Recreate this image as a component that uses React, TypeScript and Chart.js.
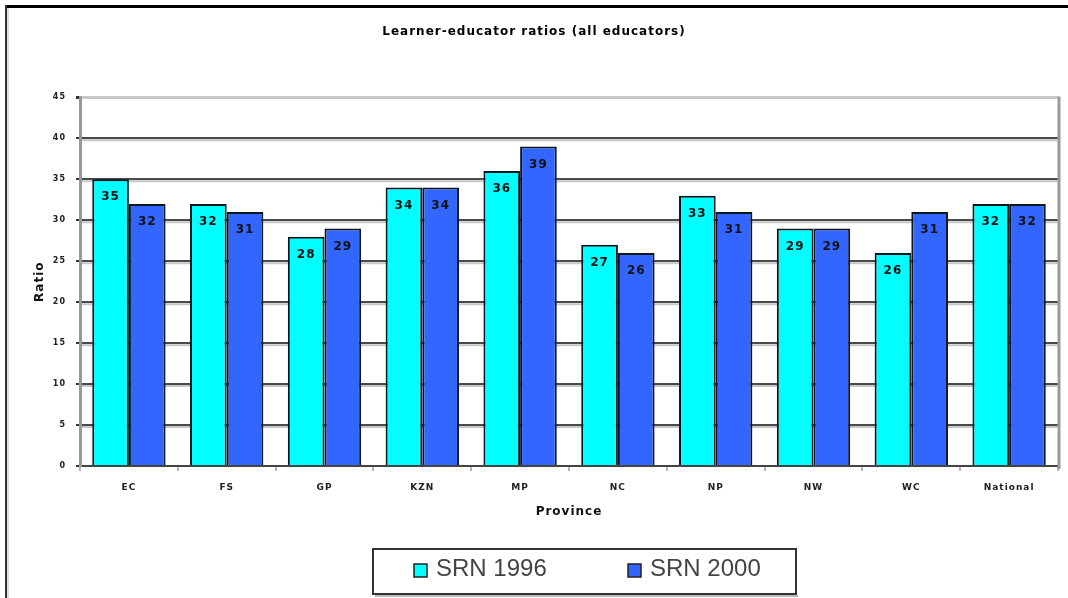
import React, { useEffect, useRef } from "react";
import { Chart, registerables } from "chart.js";

Chart.register(...registerables);

const chartTitle = "Learner-educator ratios (all educators)";
const provinces = ["EC", "FS", "GP", "KZN", "MP", "NC", "NP", "NW", "WC", "National"];
const srn1996 = [35, 32, 28, 34, 36, 27, 33, 29, 26, 32];
const srn2000 = [32, 31, 29, 34, 39, 26, 31, 29, 31, 32];
const seriesLabels = ["SRN 1996", "SRN 2000"];
const seriesColors = ["#00FFFF", "#3366FF"];
const xAxisTitle = "Province";
const yAxisTitle = "Ratio";
const yMin = 0;
const yMax = 45;
const yStep = 5;

const FONT = '"DejaVu Sans", Verdana, sans-serif';

const spacingPlugin = {
  id: "spacing",
  beforeDraw(chart: any) {
    (chart.ctx as any).letterSpacing = "1px";
  },
};

const gridShadowPlugin = {
  id: "gridShadow",
  beforeDatasetsDraw(chart: any) {
    const { ctx, chartArea } = chart;
    const y = chart.scales.y;
    ctx.save();
    ctx.strokeStyle = "#c6c6c6";
    ctx.lineWidth = 2;
    y.ticks.forEach((t: any) => {
      if (t.value > yMin && t.value < yMax) {
        const py = y.getPixelForValue(t.value) + 2;
        ctx.beginPath();
        ctx.moveTo(chartArea.left + 2, py);
        ctx.lineTo(chartArea.right, py);
        ctx.stroke();
      }
    });
    ctx.strokeStyle = "#9a9a9a";
    ctx.lineWidth = 3;
    ctx.beginPath();
    ctx.moveTo(chartArea.right + 1, chartArea.top - 1);
    ctx.lineTo(chartArea.right + 1, chartArea.bottom + 3);
    ctx.stroke();
    ctx.restore();
  },
};

const dataLabelPlugin = {
  id: "dataLabels",
  afterDatasetsDraw(chart: any) {
    const { ctx } = chart;
    ctx.save();
    ctx.font = `bold 12px ${FONT}`;
    ctx.fillStyle = "#111";
    ctx.textAlign = "center";
    ctx.textBaseline = "middle";
    chart.data.datasets.forEach((ds: any, i: number) => {
      const meta = chart.getDatasetMeta(i);
      meta.data.forEach((el: any, j: number) => {
        ctx.fillText(String(ds.data[j]), el.x, el.y + 18);
      });
    });
    ctx.restore();
  },
};

const legendFramePlugin = {
  id: "legendFrame",
  afterDraw(chart: any) {
    const { ctx } = chart;
    ctx.save();
    (ctx as any).letterSpacing = "0px";
    // page frame
    ctx.fillStyle = "#000";
    ctx.fillRect(5, 5, 1063, 3);
    ctx.fillStyle = "#333";
    ctx.fillRect(5, 5, 2, 593);
    ctx.fillStyle = "#dcdcdc";
    ctx.fillRect(7, 8, 2, 590);
    // legend box
    const bx = 373, by = 549, bw = 423, bh = 45;
    ctx.fillStyle = "#fff";
    ctx.fillRect(bx, by, bw, bh);
    ctx.fillStyle = "#bdbdbd";
    ctx.fillRect(bx + 2, by + bh + 1, bw, 2);
    ctx.strokeStyle = "#333";
    ctx.lineWidth = 2;
    ctx.strokeRect(bx, by, bw, bh);
    ctx.font = `24px "Liberation Sans", Arial, sans-serif`;
    ctx.textBaseline = "middle";
    ctx.textAlign = "left";
    chart.data.datasets.forEach((ds: any, i: number) => {
      const x0 = 414 + i * 214;
      ctx.fillStyle = ds.backgroundColor;
      ctx.fillRect(x0, 564, 13, 13);
      ctx.strokeStyle = "#222";
      ctx.lineWidth = 1.5;
      ctx.strokeRect(x0, 564, 13, 13);
      ctx.fillStyle = "#444";
      ctx.fillText(ds.label, x0 + 22, 569);
    });
    ctx.restore();
  },
};

export default function App() {
  const canvasRef = useRef<HTMLCanvasElement | null>(null);

  useEffect(() => {
    if (!canvasRef.current) return;
    const chart = new Chart(canvasRef.current, {
      type: "bar",
      data: {
        labels: provinces,
        datasets: [
          {
            label: seriesLabels[0],
            data: srn1996,
            backgroundColor: seriesColors[0],
            borderColor: "#0b1620",
            borderWidth: 2,
            barPercentage: 1.0,
            categoryPercentage: 0.75,
          },
          {
            label: seriesLabels[1],
            data: srn2000,
            backgroundColor: seriesColors[1],
            borderColor: "#0b1620",
            borderWidth: 2,
            barPercentage: 1.0,
            categoryPercentage: 0.75,
          },
        ],
      },
      options: {
        responsive: false,
        animation: false,
        layout: { padding: { top: 0, left: 10, right: 10, bottom: 70 } },
        plugins: {
          legend: { display: false },
          tooltip: { enabled: false },
          title: {
            display: true,
            text: chartTitle,
            color: "#000",
            font: { family: FONT, size: 12, weight: "bold" },
            padding: { top: 25, bottom: 58 },
          },
        },
        scales: {
          x: {
            grid: {
              display: true,
              drawOnChartArea: false,
              tickLength: 5,
              color: "#b5b5b5",
              lineWidth: 2,
            },
            border: { color: "#444", width: 2 },
            ticks: {
              font: { family: FONT, size: 9, weight: "bold" },
              color: "#222",
              padding: 11,
              maxRotation: 0,
              autoSkip: false,
            },
            title: {
              display: true,
              text: xAxisTitle,
              color: "#111",
              font: { family: FONT, size: 12, weight: "bold" },
              padding: { top: 0, bottom: 9 },
            },
            afterFit: (s: any) => {
              s.height = 62;
            },
          },
          y: {
            min: yMin,
            max: yMax,
            ticks: {
              stepSize: yStep,
              font: { family: FONT, size: 8, weight: "bold" },
              color: "#222",
              padding: 10,
            },
            grid: {
              color: (c: any) => (c.tick && c.tick.value === yMax ? "#c8c8c8" : "#4a4a4a"),
              lineWidth: (c: any) => (c.tick && c.tick.value === yMax ? 3 : 2),
              tickLength: 4,
              tickColor: "#333",
            },
            border: { color: "#999", width: 3 },
            title: {
              display: true,
              text: yAxisTitle,
              color: "#111",
              font: { family: FONT, size: 12, weight: "bold" },
              padding: { top: 23, bottom: 0 },
            },
            afterFit: (s: any) => {
              s.width = 70;
            },
          },
        },
      } as any,
      plugins: [spacingPlugin, gridShadowPlugin, dataLabelPlugin, legendFramePlugin],
    });
    return () => chart.destroy();
  }, []);

  return (
    <div style={{ position: "absolute", left: 0, top: 0, width: 1068, height: 598, background: "#fff" }}>
      <canvas ref={canvasRef} width={1068} height={598} style={{ display: "block" }} />
    </div>
  );
}
